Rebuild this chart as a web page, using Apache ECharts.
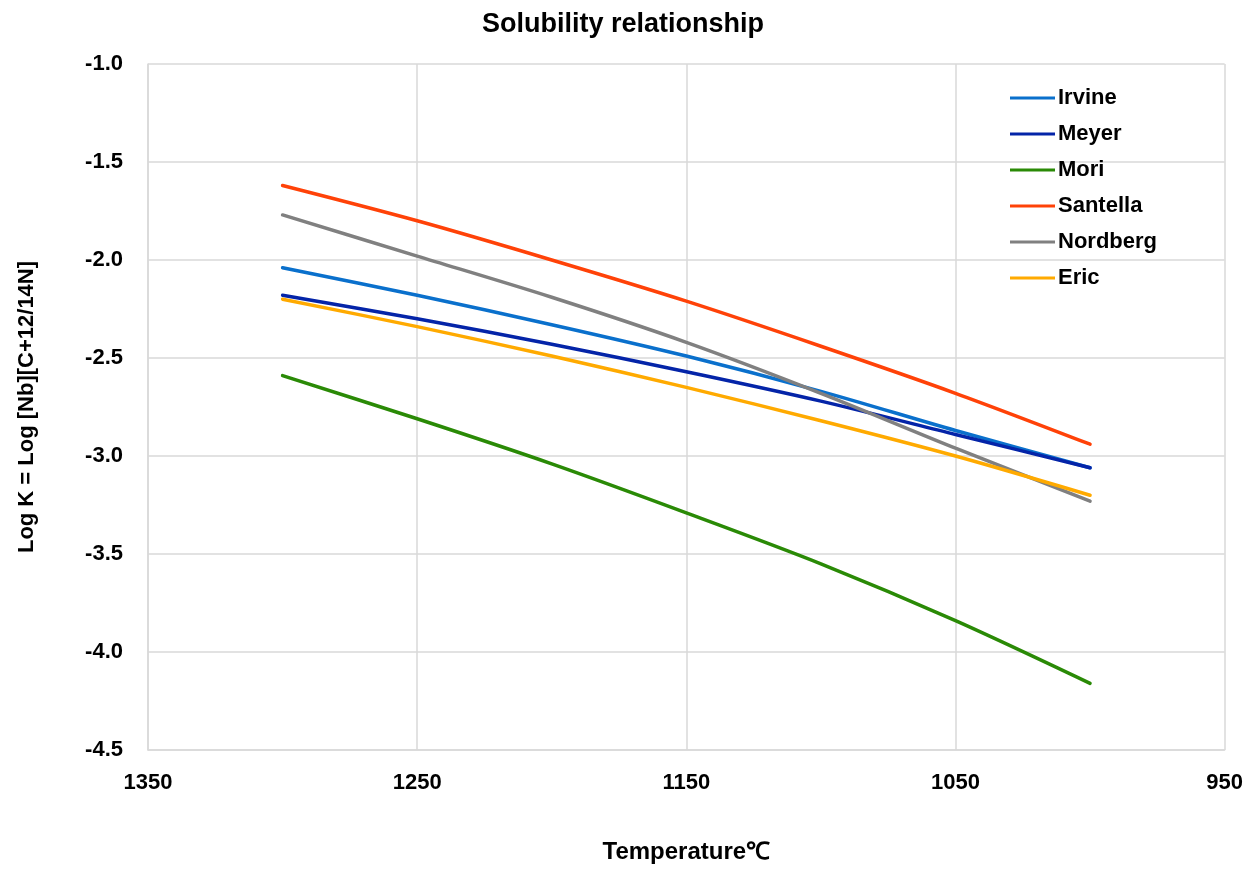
<!DOCTYPE html>
<html>
<head>
<meta charset="utf-8">
<title>Solubility relationship</title>
<script src="https://cdn.jsdelivr.net/npm/echarts@6/dist/echarts.min.js"></script>
<style>
  html, body { margin: 0; padding: 0; background: #ffffff; }
  #chart { width: 1246px; height: 869px; }
</style>
</head>
<body>
<div id="chart"></div>
<script>
// Temperature points (°C) at which each solubility curve is sampled
const temperatures = [1300, 1250, 1200, 1150, 1100, 1050, 1000];

// log K = log[Nb][C+12/14N] for each published relationship
const irvine   = [-2.04, -2.18, -2.33, -2.49, -2.67, -2.87, -3.06];
const meyer    = [-2.18, -2.30, -2.43, -2.57, -2.72, -2.89, -3.06];
const mori     = [-2.59, -2.81, -3.04, -3.29, -3.55, -3.84, -4.16];
const santella = [-1.62, -1.80, -2.00, -2.21, -2.44, -2.68, -2.94];
const nordberg = [-1.77, -1.98, -2.19, -2.42, -2.68, -2.96, -3.23];
const eric     = [-2.20, -2.34, -2.49, -2.65, -2.82, -3.00, -3.20];

const seriesNames = ['Irvine', 'Meyer', 'Mori', 'Santella', 'Nordberg', 'Eric'];
const seriesValues = [irvine, meyer, mori, santella, nordberg, eric];
const seriesColors = ['#0A70CC', '#0424A8', '#2A8A06', '#FF4208', '#808080', '#FFAA00'];

const FONT = '"Liberation Sans", Arial, sans-serif';

const chart = echarts.init(document.getElementById('chart'), null, { renderer: 'canvas' });

const series = seriesNames.map((name, i) => ({
  name: name,
  type: 'line',
  data: temperatures.map((t, j) => [t, seriesValues[i][j]]),
  smooth: 0.3,
  showSymbol: false,
  symbol: 'none',
  lineStyle: { width: 3.5, color: seriesColors[i], cap: 'round' },
  itemStyle: { color: seriesColors[i] },
  emphasis: { disabled: true }
}));

chart.setOption({
  animation: false,
  backgroundColor: '#ffffff',
  title: {
    text: 'Solubility relationship',
    left: 'center',
    top: 6,
    textStyle: { fontFamily: FONT, fontWeight: 'bold', fontSize: 27, color: '#000' }
  },
  legend: {
    orient: 'vertical',
    left: 1005,
    top: 82,
    icon: 'rect',
    itemWidth: 45,
    itemHeight: 3,
    itemGap: 14,
    data: seriesNames,
    textStyle: { fontFamily: FONT, fontWeight: 'bold', fontSize: 22, color: '#000', lineHeight: 22, padding: [0, 0, 0, -2] }
  },
  grid: { left: 148, right: 20, top: 64, bottom: 113, containLabel: false },
  xAxis: {
    type: 'value',
    inverse: true,
    min: 950,
    max: 1350,
    interval: 100,
    name: 'Temperature℃',
    nameLocation: 'middle',
    nameGap: 90,
    nameTextStyle: { fontFamily: FONT, fontWeight: 'bold', fontSize: 24, color: '#000' },
    axisLine: { show: true, lineStyle: { color: '#d9d9d9', width: 1.5 } },
    axisTick: { show: false },
    axisLabel: {
      margin: 22,
      fontFamily: FONT, fontWeight: 'bold', fontSize: 22, color: '#000',
      formatter: v => String(v)
    },
    splitLine: { show: true, lineStyle: { color: '#d9d9d9', width: 1.5 } }
  },
  yAxis: {
    type: 'value',
    min: -4.5,
    max: -1.0,
    interval: 0.5,
    name: 'Log K = Log [Nb][C+12/14N]',
    nameLocation: 'middle',
    nameGap: 110,
    nameRotate: 90,
    nameTextStyle: { fontFamily: FONT, fontWeight: 'bold', fontSize: 22, color: '#000' },
    axisLine: { show: true, lineStyle: { color: '#d9d9d9', width: 1.5 } },
    axisTick: { show: false },
    axisLabel: {
      margin: 25,
      fontFamily: FONT, fontWeight: 'bold', fontSize: 22, color: '#000',
      formatter: v => v.toFixed(1)
    },
    splitLine: { show: true, lineStyle: { color: '#d9d9d9', width: 1.5 } }
  },
  series: series
});
</script>
</body>
</html>
